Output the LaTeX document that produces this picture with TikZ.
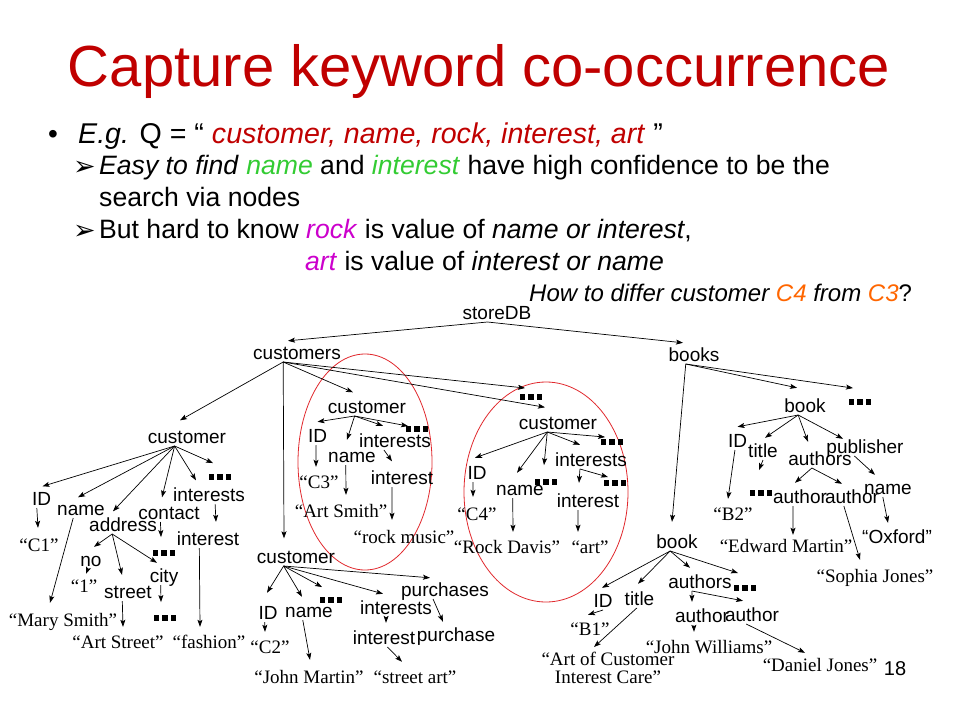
\documentclass[tikz,border=0pt]{standalone}
\usepackage{fontspec}
\setmainfont{Liberation Sans}
\newfontfamily\serifface{Liberation Serif}
\newfontfamily\dejavu{DejaVu Sans}
\usetikzlibrary{arrows.meta,calc}
\definecolor{titlered}{RGB}{192,0,0}
\definecolor{qred}{RGB}{192,0,0}
\definecolor{qgreen}{RGB}{51,204,51}
\definecolor{qmag}{RGB}{204,0,204}
\definecolor{qorange}{RGB}{255,102,0}
\definecolor{ellred}{RGB}{225,40,45}
\newcommand\sqd{\rule{5.5pt}{5.5pt}}
\newcommand\threedots{\sqd\hspace{3pt}\sqd\hspace{3pt}\sqd}
\newcommand\ed[5]{\draw[arr] ($(#1.base west)!#2!(#1.base east)+(0,3)$) -- ($(#3.north)+(#4,#5)$);}
\begin{document}
\begin{tikzpicture}[x=1pt,y=-1pt,
  tn/.style={font=\fontsize{19}{19}\selectfont, inner sep=2pt, text height=13.5pt, text depth=4pt, anchor=base},
  sn/.style={tn, font=\serifface\fontsize{19}{19}\selectfont},
  dn/.style={inner sep=0pt, anchor=center},
  arr/.style={-{Stealth[length=7pt,width=5pt,inset=1.5pt]}, line width=0.7pt},
  txt/.style={anchor=base west, inner sep=0pt},
  ell/.style={ellred, line width=0.8pt}
]
\fill[white] (0,0) rectangle (960,720);
\useasboundingbox (0,0) rectangle (960,720);

% ---------- header text ----------
\node[anchor=base, inner sep=0pt, font=\fontsize{58}{58}\selectfont, text=titlered] (title) at (479,86) {Capture keyword co-occurrence};
\node[txt, font=\fontsize{28}{28}\selectfont] (bul) at (48,143) {•};
\node[txt, font=\fontsize{28.6}{28.6}\selectfont] (l1) at (78,143) {\textit{E.g.} Q = “ \textcolor{qred}{\textit{customer, name, rock, interest, art}} ”};
\node[txt, font=\dejavu\fontsize{27}{27}\selectfont] (ar1) at (73,175) {➢};
\node[txt, font=\fontsize{26.6}{26.6}\selectfont] (l2) at (99,174) {\textit{Easy to find} \textcolor{qgreen}{\textit{name}} and \textcolor{qgreen}{\textit{interest}} have high confidence to be the};
\node[txt, font=\fontsize{26.6}{26.6}\selectfont] (l3) at (99,206) {search via nodes};
\node[txt, font=\dejavu\fontsize{27}{27}\selectfont] (ar2) at (73,239) {➢};
\node[txt, font=\fontsize{26.6}{26.6}\selectfont] (l4) at (99,238) {But hard to know \textcolor{qmag}{\textit{rock}} is value of \textit{name or interest},};
\node[txt, font=\fontsize{26.6}{26.6}\selectfont] (l5) at (305,270) {\textcolor{qmag}{\textit{art}} is value of \textit{interest or name}};
\node[txt, font=\fontsize{24}{24}\selectfont] (l6) at (529,301) {\textit{How to differ customer \textcolor{qorange}{C4} from \textcolor{qorange}{C3}}?};

% ---------- ellipses ----------
\draw[ell] (365,462) ellipse [x radius=67, y radius=108];
\draw[ell] (546,492) ellipse [x radius=82, y radius=110];

% ---------- tree nodes ----------
\node[tn] (storeDB) at (497,319) {storeDB};
\node[tn] (customers) at (297,359) {customers};
\node[tn] (books) at (694,361) {books};
\node[tn] (cust1) at (187,443) {customer};
\node[tn] (cust3) at (367,413) {customer};
\node[tn] (cust4) at (558,429) {customer};
\node[tn] (cust2) at (296,563) {customer};
\node[dn] (d0) at (531,397) {\threedots};

\node[tn] (id1) at (41.5,505) {ID};
\node[tn] (name1) at (81,515) {name};
\node[tn] (address1) at (123,531) {address};
\node[tn] (contact1) at (169,519) {contact};
\node[tn] (interests1) at (209,501) {interests};
\node[dn] (dots1) at (220,477) {\threedots};
\node[sn] (c1v) at (39,551) {“C1”};
\node[sn] (mary) at (63,626) {“Mary Smith”};
\node[tn] (no1) at (91,566) {no};
\node[tn] (street1) at (128,598) {street};
\node[tn] (city1) at (164,582) {city};
\node[dn] (dots1b) at (164,553) {\threedots};
\node[dn] (dots1c) at (165,618) {\threedots};
\node[sn] (one) at (84,592) {“1”};
\node[sn] (artstreet) at (118,648) {“Art Street”};
\node[tn] (interest1) at (208,545) {interest};
\node[sn] (fashion) at (209,648) {“fashion”};

\node[tn] (id3) at (317.5,442) {ID};
\node[tn] (name3) at (352,462) {name};
\node[tn] (interests3) at (395,447) {interests};
\node[dn] (dots3) at (417,429) {\threedots};
\node[sn] (c3v) at (319,488) {“C3”};
\node[sn] (artsmith) at (341,517) {“Art Smith”};
\node[tn] (interest3) at (402,484) {interest};
\node[sn] (rockmusic) at (404,543) {“rock music”};

\node[tn] (id4) at (477,479) {ID};
\node[tn] (name4) at (520,495) {name};
\node[dn] (dots4a) at (546,482) {\threedots};
\node[tn] (interests4) at (591,466) {interests};
\node[dn] (dots4b) at (612,442) {\threedots};
\node[tn] (interest4) at (588,507) {interest};
\node[dn] (dots4c) at (615,483) {\threedots};
\node[sn] (c4v) at (477,520) {“C4”};
\node[sn] (rockdavis) at (507,553) {“Rock Davis”};
\node[sn] (art) at (590,553) {“art”};

\node[tn] (id2) at (268,619) {ID};
\node[tn] (name2) at (309,617) {name};
\node[dn] (dots2) at (331,600) {\threedots};
\node[tn] (interests2) at (396,614) {interests};
\node[tn] (purchases) at (445,596) {purchases};
\node[sn] (c2v) at (270,653) {“C2”};
\node[sn] (johnmartin) at (309,683) {“John Martin”};
\node[tn] (interest2) at (384,644) {interest};
\node[sn] (streetart) at (415,683) {“street art”};
\node[tn] (purchase) at (456,641) {purchase};

\node[tn] (book1) at (805,412) {book};
\node[dn] (dotsb) at (860,402) {\threedots};
\node[tn] (book2) at (677,548) {book};

\node[tn] (idb1) at (737.5,447) {ID};
\node[tn] (title1) at (763,457) {title};
\node[tn] (authors1) at (820,465) {authors};
\node[tn] (publisher) at (865,453) {publisher};
\node[sn] (b2v) at (733,520) {“B2”};
\node[dn] (dotsb1) at (761,493) {\threedots};
\node[tn] (author1a) at (800,503) {author};
\node[tn] (author1b) at (852,503) {author};
\node[tn] (namep) at (888,494) {name};
\node[sn] (edward) at (786,552) {“Edward Martin”};
\node[sn] (sophia) at (875,582) {“Sophia Jones”};
\node[tn] (oxford) at (897,543) {“Oxford”};

\node[tn] (idb2) at (603,607) {ID};
\node[tn] (title2) at (639.5,605) {title};
\node[tn] (authors2) at (700,588) {authors};
\node[dn] (dotsb2) at (745,588) {\threedots};
\node[sn] (b1v) at (590,635) {“B1”};
\node[font=\serifface\fontsize{19}{18}\selectfont, align=center, inner sep=2pt, anchor=north] (artof) at (608,650) {“Art of Customer\\Interest Care”};
\node[tn] (author2a) at (702,622) {author};
\node[tn] (author2b) at (752,621) {author};
\node[sn] (johnwilliams) at (709,653) {“John Williams”};
\node[sn] (danieljones) at (820,671) {“Daniel Jones”};

\node[anchor=base, inner sep=0pt, font=\fontsize{20}{20}\selectfont] (pg) at (895,675) {18};

% ---------- edges ----------
\ed{storeDB}{0.37}{customers}{-9}{-2.5}
\ed{storeDB}{0.37}{books}{-11}{-2.5}
\ed{customers}{0.35}{cust1}{-7}{-7}
\ed{customers}{0.35}{cust2}{-12}{-9}
\ed{customers}{0.35}{cust3}{-14}{-5}
\ed{customers}{0.35}{d0}{-6}{-6}
\ed{customers}{0.35}{cust4}{-13}{-6}

\ed{cust1}{0.35}{id1}{1}{-3}
\ed{cust1}{0.35}{name1}{-3}{-2}
\ed{cust1}{0.35}{address1}{-10}{-4}
\ed{cust1}{0.35}{contact1}{-7}{-6}
\ed{cust1}{0.35}{interests1}{-13}{-5}
\ed{cust1}{0.35}{dots1}{-7}{-11}
\ed{id1}{0.3}{c1v}{-1}{-7.5}
\ed{name1}{0.35}{mary}{-13}{-7.5}
\ed{address1}{0.35}{no1}{3}{-3.5}
\ed{address1}{0.35}{street1}{-6}{-7.5}
\ed{address1}{0.35}{city1}{-7}{-3.5}
\ed{contact1}{0.37}{dots1b}{-3}{-13}
\ed{interests1}{0.58}{interest1}{8}{-7.5}
\ed{interest1}{0.37}{fashion}{-9}{-5.5}
\ed{no1}{0.38}{one}{2}{-2.5}
\ed{street1}{0.39}{artstreet}{5}{-5.5}
\ed{city1}{0.4}{dots1c}{-4}{-13}

\ed{cust3}{0.35}{id3}{0}{-4.5}
\ed{cust3}{0.35}{name3}{-5}{-6.5}
\ed{cust3}{0.35}{interests3}{-12}{-5.5}
\ed{cust3}{0.35}{dots3}{-9}{0}
\ed{id3}{0.44}{c3v}{-3}{-5.5}
\ed{name3}{0.38}{artsmith}{5}{-6.5}
\ed{interests3}{0.355}{interest3}{-10}{-7}
\ed{interest3}{0.35}{rockmusic}{-12}{-7.5}

\ed{cust4}{0.37}{id4}{-2}{-5.5}
\ed{cust4}{0.37}{name4}{-3}{-6.5}
\ed{cust4}{0.37}{dots4a}{-2}{-14}
\ed{cust4}{0.37}{interests4}{-11}{-5.5}
\ed{cust4}{0.37}{dots4b}{-7}{-2}
\ed{interests4}{0.355}{interest4}{-9}{-8.5}
\ed{interests4}{0.355}{dots4c}{-7}{-3}
\ed{id4}{0.33}{c4v}{-4}{-7.5}
\ed{name4}{0.36}{rockdavis}{6}{-5.5}
\ed{interest4}{0.35}{art}{-12}{-5.5}

\ed{cust2}{0.35}{id2}{-1}{-10.5}
\ed{cust2}{0.35}{name2}{-7}{-4.5}
\ed{cust2}{0.35}{dots2}{-9}{-10}
\ed{cust2}{0.35}{interests2}{-13}{-4.5}
\ed{cust2}{0.35}{purchases}{-15}{-2.5}
\ed{id2}{0.36}{c2v}{-5}{-5.5}
\ed{name2}{0.38}{johnmartin}{1}{-7.5}
\ed{interests2}{0.37}{interest2}{2}{-5.5}
\ed{interest2}{0.55}{streetart}{-13}{-5.5}
\ed{purchases}{0.37}{purchase}{-13}{-3.5}

\ed{books}{0.35}{book1}{-8}{-8.5}
\ed{books}{0.35}{dotsb}{-7}{-11}
\ed{books}{0.35}{book2}{-5}{-10.5}
\ed{book1}{0.35}{idb1}{0}{-4.5}
\ed{book1}{0.35}{title1}{2}{-3.5}
\ed{book1}{0.35}{authors1}{-12}{-7.5}
\ed{book1}{0.35}{publisher}{-22}{1.5}
\ed{idb1}{0.39}{b2v}{-5}{-5.5}
\ed{title1}{0.5}{dotsb1}{-2}{-20}
\ed{authors1}{0.38}{author1a}{-5}{-4.5}
\ed{authors1}{0.38}{author1b}{-10}{-3.5}
\ed{publisher}{0.37}{namep}{-13}{-3.5}
\ed{author1a}{0.38}{edward}{7}{-1.5}
\ed{author1b}{0.36}{sophia}{-15}{-6.5}
\ed{namep}{0.4}{oxford}{-9}{-4.5}
\ed{book2}{0.35}{idb2}{-1}{-3.5}
\ed{book2}{0.35}{title2}{-1.5}{-5.5}
\ed{book2}{0.35}{authors2}{-10}{-4.5}
\ed{book2}{0.35}{dotsb2}{-7}{-12}
\ed{idb2}{0.5}{b1v}{-2}{-4.5}
\ed{title2}{0.42}{artof}{-14}{-3}
\ed{authors2}{0.38}{author2a}{-10}{-4.5}
\ed{authors2}{0.38}{author2b}{-9}{-4.5}
\ed{author2a}{0.36}{johnwilliams}{-15}{-5.5}
\ed{author2b}{0.4}{danieljones}{-15}{-2.5}
\end{tikzpicture}
\end{document}
